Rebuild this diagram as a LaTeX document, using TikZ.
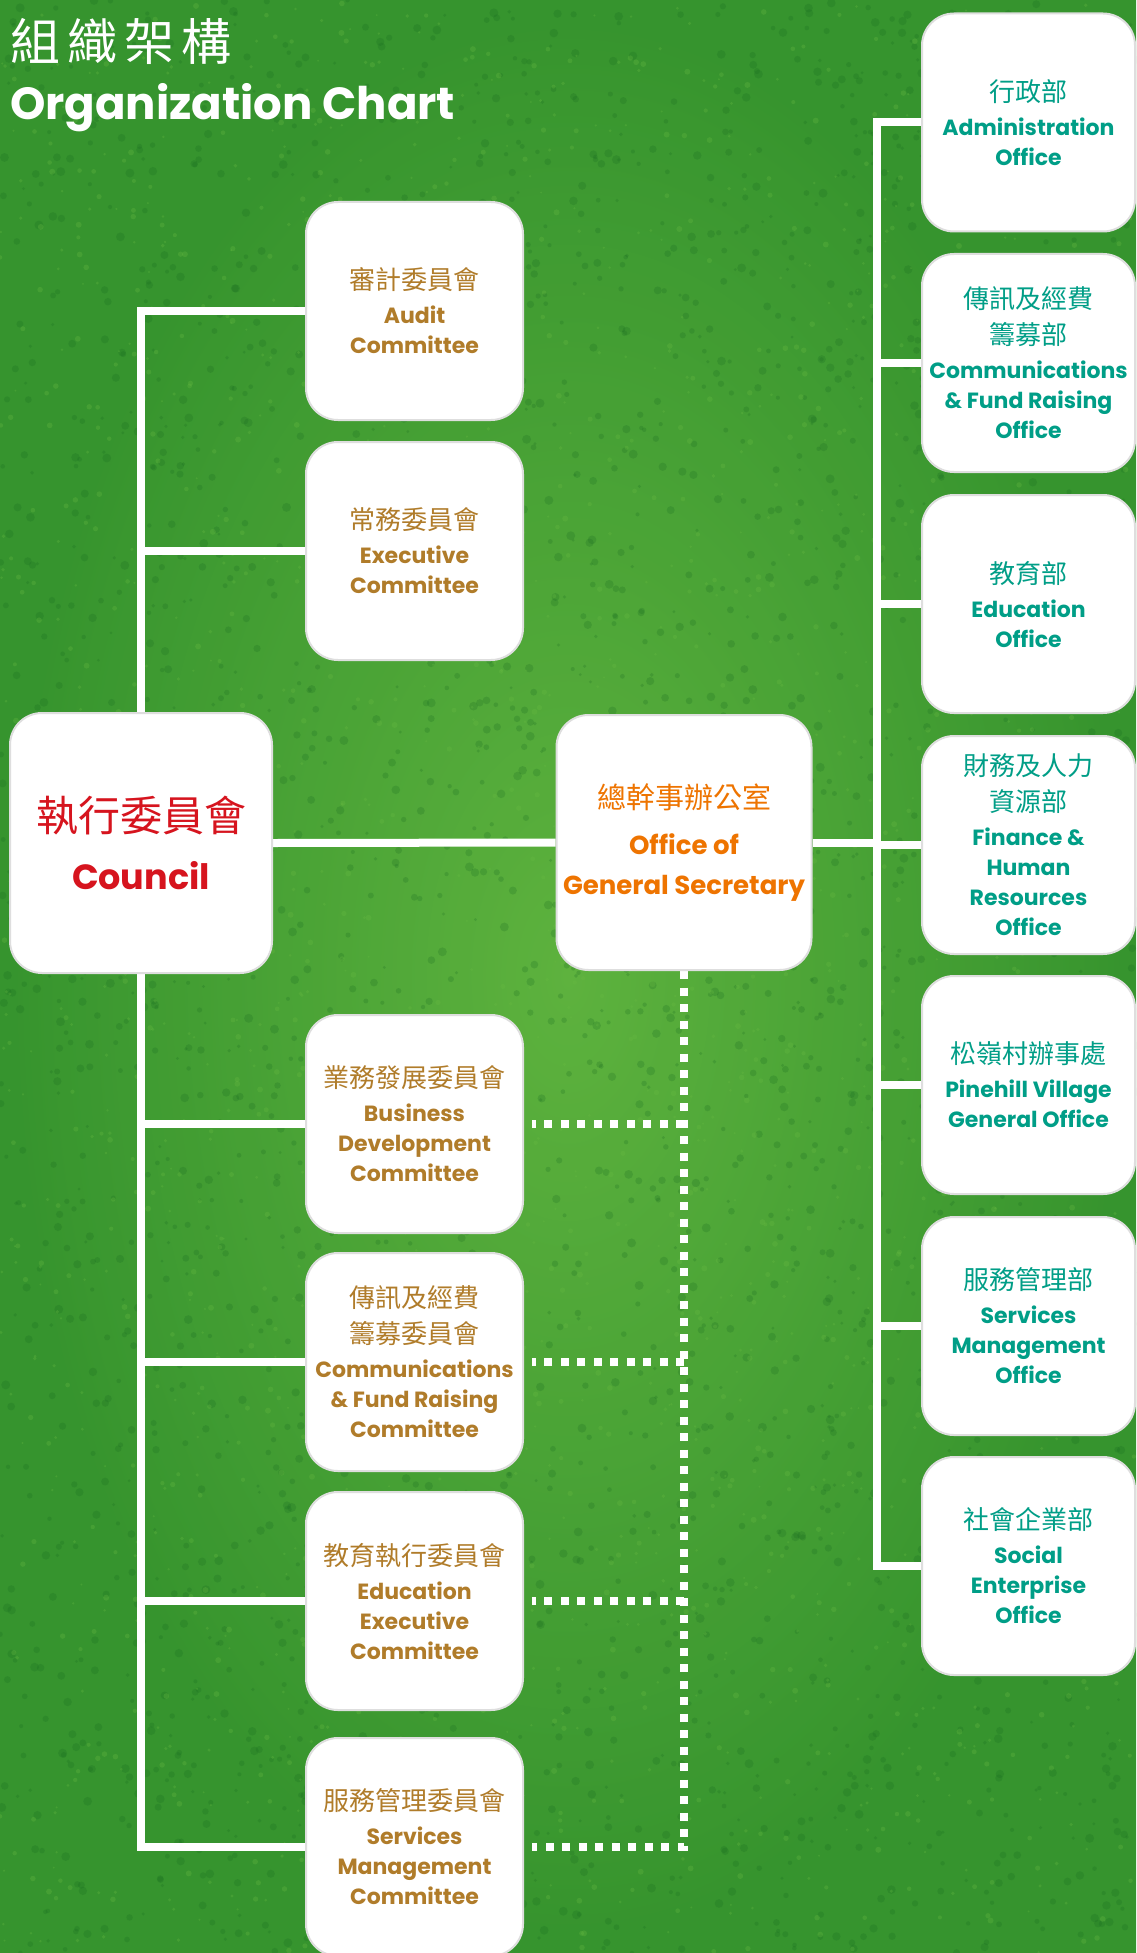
\documentclass[tikz,border=0pt]{standalone}
\usepackage{fontspec}
\setmainfont{Poppins}
\newfontfamily\cjk{Noto Sans CJK TC}
\newfontfamily\cjktitle{Noto Sans CJK TC}[LetterSpace=14]
\definecolor{grass}{RGB}{54,148,46}
\definecolor{grasslight}{RGB}{104,186,66}
\definecolor{grassdark}{RGB}{22,104,32}
\definecolor{cbrown}{RGB}{176,124,42}
\definecolor{cred}{RGB}{214,20,30}
\definecolor{corange}{RGB}{238,116,0}
\definecolor{cteal}{RGB}{0,158,135}
\newcommand{\zh}[2]{{\cjk\mdseries\fontsize{#1}{#1}\selectfont #2}}
\pgfdeclarelayer{bglayer}
\pgfdeclarelayer{linelayer}
\pgfsetlayers{bglayer,linelayer,main}
\begin{document}
\begin{tikzpicture}[x=1pt,y=-1pt,
  box/.style={rounded corners=32pt, fill=white, draw=black!13, line width=2pt,
    align=center, inner sep=0pt},
  comm/.style={box, minimum width=217pt, minimum height=218pt, text=cbrown,
    font=\fontsize{22}{30}\selectfont\bfseries},
  office/.style={box, minimum width=213pt, minimum height=218pt, text=cteal,
    font=\fontsize{22}{30}\selectfont\bfseries},
  link/.style={draw=white, line width=8pt},
  dotlink/.style={draw=white, line width=8pt, dash pattern=on 8pt off 8.5pt}]
\useasboundingbox (0,0) rectangle (1136,1953);
% background
\begin{pgfonlayer}{bglayer}
\begin{scope}
\clip (0,0) rectangle (1136,1953);
\fill[grass] (0,0) rectangle (1136,1953);
\shade[inner color=grasslight, outer color=grass, opacity=0.8] (0,0) rectangle (1136,1953);
\pgfmathsetseed{42}
\foreach \i in {1,...,3000}{\fill[grassdark, opacity=0.22] ({rnd*1136},{rnd*1953}) circle[radius={1.5+rnd*3}];}
\foreach \i in {1,...,2000}{\fill[grasslight, opacity=0.3] ({rnd*1136},{rnd*1953}) circle[radius={1+rnd*2}];}
\end{scope}
\end{pgfonlayer}
% title
\node[anchor=west, text=white, inner sep=0pt] (titlezh) at (10,41)
  {\cjktitle\fontsize{50}{50}\selectfont 組織架構};
\node[anchor=base west, text=white, inner sep=0pt, font=\fontsize{45}{45}\selectfont\bfseries] (titleen) at (10,120) {Organization Chart};
% trunk coordinates
\coordinate (lt) at (141,311);
\coordinate (rt) at (876.5,122.5);
% committees
\node[comm] (audit) at (414.5,311) {\zh{26}{審計委員會}\\[4pt] Audit\\ Committee};
\node[comm] (exec) at (414.5,551) {\zh{26}{常務委員會}\\[4pt] Executive\\ Committee};
\node[comm] (bd) at (414.5,1124) {\zh{26}{業務發展委員會}\\[4pt] Business\\ Development\\ Committee};
\node[comm] (cf) at (414.5,1362) {\zh{26}{傳訊及經費}\\[6pt] \zh{26}{籌募委員會}\\[4pt] Communications\\ \&~Fund Raising\\ Committee};
\node[comm] (edu) at (414.5,1601) {\zh{26}{教育執行委員會}\\[4pt] Education\\ Executive\\ Committee};
\node[comm] (svc) at (414.5,1847) {\zh{26}{服務管理委員會}\\[4pt] Services\\ Management\\ Committee};
% offices
\node[office] (admin) at (1028.5,122.5) {\zh{26}{行政部}\\[4pt] Administration\\ Office};
\node[office] (cfo) at (1028.5,363) {\zh{26}{傳訊及經費}\\[6pt] \zh{26}{籌募部}\\[4pt] Communications\\ \&~Fund Raising\\ Office};
\node[office] (eduo) at (1028.5,604) {\zh{26}{教育部}\\[4pt] Education\\ Office};
\node[office] (fin) at (1028.5,845) {\zh{26}{財務及人力}\\[6pt] \zh{26}{資源部}\\[4pt] Finance \&\\ Human\\ Resources\\ Office};
\node[office] (pine) at (1028.5,1085) {\zh{26}{松嶺村辦事處}\\[4pt] Pinehill Village\\ General Office};
\node[office] (svco) at (1028.5,1326) {\zh{26}{服務管理部}\\[4pt] Services\\ Management\\ Office};
\node[office] (soc) at (1028.5,1566) {\zh{26}{社會企業部}\\[4pt] Social\\ Enterprise\\ Office};
% council and general secretary
\node[box, minimum width=262pt, minimum height=260pt, text=cred,
  font=\fontsize{35}{50}\selectfont\bfseries] (council) at (141,843)
  {\zh{42}{執行委員會}\\[8pt] Council};
\node[box, minimum width=255pt, minimum height=255pt, text=corange,
  font=\fontsize{26}{40}\selectfont\bfseries] (gs) at (684,842.5)
  {\zh{29}{總幹事辦公室}\\[6pt] Office of\\ General Secretary};
% connectors
\begin{pgfonlayer}{linelayer}
\draw[link] (audit.west) -- (audit.west -| lt) -- (svc.west -| lt) -- (svc.west);
\foreach \n in {exec,bd,cf,edu}{\draw[link] (\n.west) -- (\n.west -| lt);}
\draw[link] (council.east) -- (gs.west);
\draw[link] (gs.east) -- (gs.east -| rt);
\draw[link] (admin.west) -- (admin.west -| rt) -- (soc.west -| rt) -- (soc.west);
\foreach \n in {cfo,eduo,fin,pine,svco}{\draw[link] (\n.west) -- (\n.west -| rt);}
\draw[dotlink] (gs.south) -- (gs.south |- svc.east) -- ([xshift=8pt]svc.east);
\foreach \n in {bd,cf,edu}{\draw[dotlink] (gs.south |- \n.east) -- ([xshift=8pt]\n.east);}
\end{pgfonlayer}
\end{tikzpicture}
\end{document}
